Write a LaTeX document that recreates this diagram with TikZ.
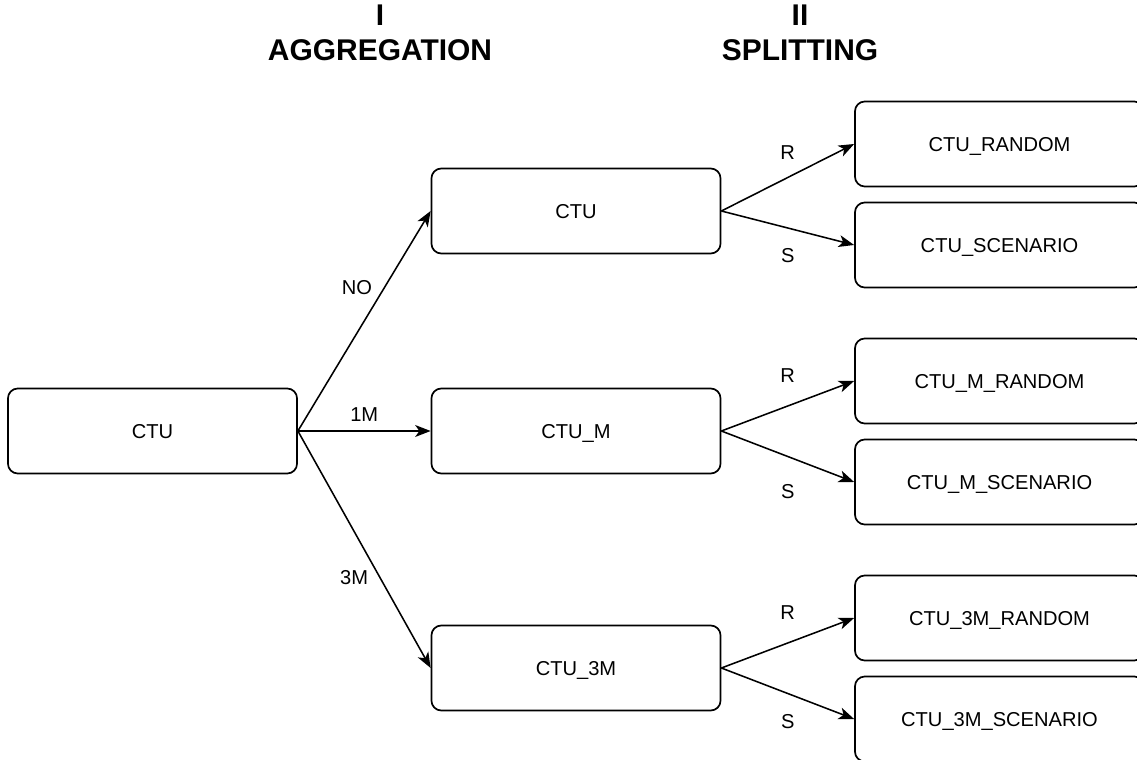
\documentclass[tikz,border=0pt]{standalone}
\usepackage{fontspec}
\setmainfont{Liberation Sans}
\usepackage{tikz}
\usetikzlibrary{arrows.meta}

\begin{document}
\begin{tikzpicture}[
  x=0.025cm,y=-0.025cm,
  font=\fontsize{14.3}{17}\selectfont,
  box/.style={draw,line width=1.2pt,rounded corners=7pt,align=center,
              minimum width=7.225cm,minimum height=2.125cm,inner sep=0pt,
              text depth=0pt},
  lab/.style={inner sep=2pt},
  hdr/.style={font=\fontsize{21.3}{25}\selectfont\bfseries,align=center},
  >={Stealth[length=11pt,width=8.5pt,inset=3pt]}
]
\useasboundingbox (0,0) rectangle (1137,760);
% ---- Headings ----
\node[hdr] (agg) at (380,33) {I\\AGGREGATION};
\node[hdr] (spl) at (800,33) {II\\SPLITTING};
% ---- Source ----
\node[box] (src) at (152.5,431) {CTU};
% ---- Aggregation ----
\node[box] (ctu)  at (576,211) {CTU};
\node[box] (ctum) at (576,431) {CTU\_M};
\node[box] (ctu3) at (576,668) {CTU\_3M};
% ---- Splitting ----
\node[box] (ctur)  at (999.5,144) {CTU\_RANDOM};
\node[box] (ctus)  at (999.5,245) {CTU\_SCENARIO};
\node[box] (ctumr) at (999.5,381) {CTU\_M\_RANDOM};
\node[box] (ctums) at (999.5,482) {CTU\_M\_SCENARIO};
\node[box] (ctu3r) at (999.5,618) {CTU\_3M\_RANDOM};
\node[box] (ctu3s) at (999.5,719) {CTU\_3M\_SCENARIO};
% ---- Edges ----
\draw[->,line width=1.1pt] (src.east) -- (ctu.west)  node[lab,pos=0.65,left=6pt] {NO};
\draw[->,line width=1.1pt] (src.east) -- (ctum.west) node[lab,midway,above=4pt] {1M};
\draw[->,line width=1.1pt] (src.east) -- (ctu3.west) node[lab,pos=0.62,left=6pt] {3M};
\draw[->,line width=1.1pt] (ctu.east)  -- (ctur.west)  node[lab,midway,above=10pt] {R};
\draw[->,line width=1.1pt] (ctu.east)  -- (ctus.west)  node[lab,midway,below=12pt] {S};
\draw[->,line width=1.1pt] (ctum.east) -- (ctumr.west) node[lab,midway,above=14pt] {R};
\draw[->,line width=1.1pt] (ctum.east) -- (ctums.west) node[lab,midway,below=17pt] {S};
\draw[->,line width=1.1pt] (ctu3.east) -- (ctu3r.west) node[lab,midway,above=14pt] {R};
\draw[->,line width=1.1pt] (ctu3.east) -- (ctu3s.west) node[lab,midway,below=12pt] {S};
\end{tikzpicture}
\end{document}
